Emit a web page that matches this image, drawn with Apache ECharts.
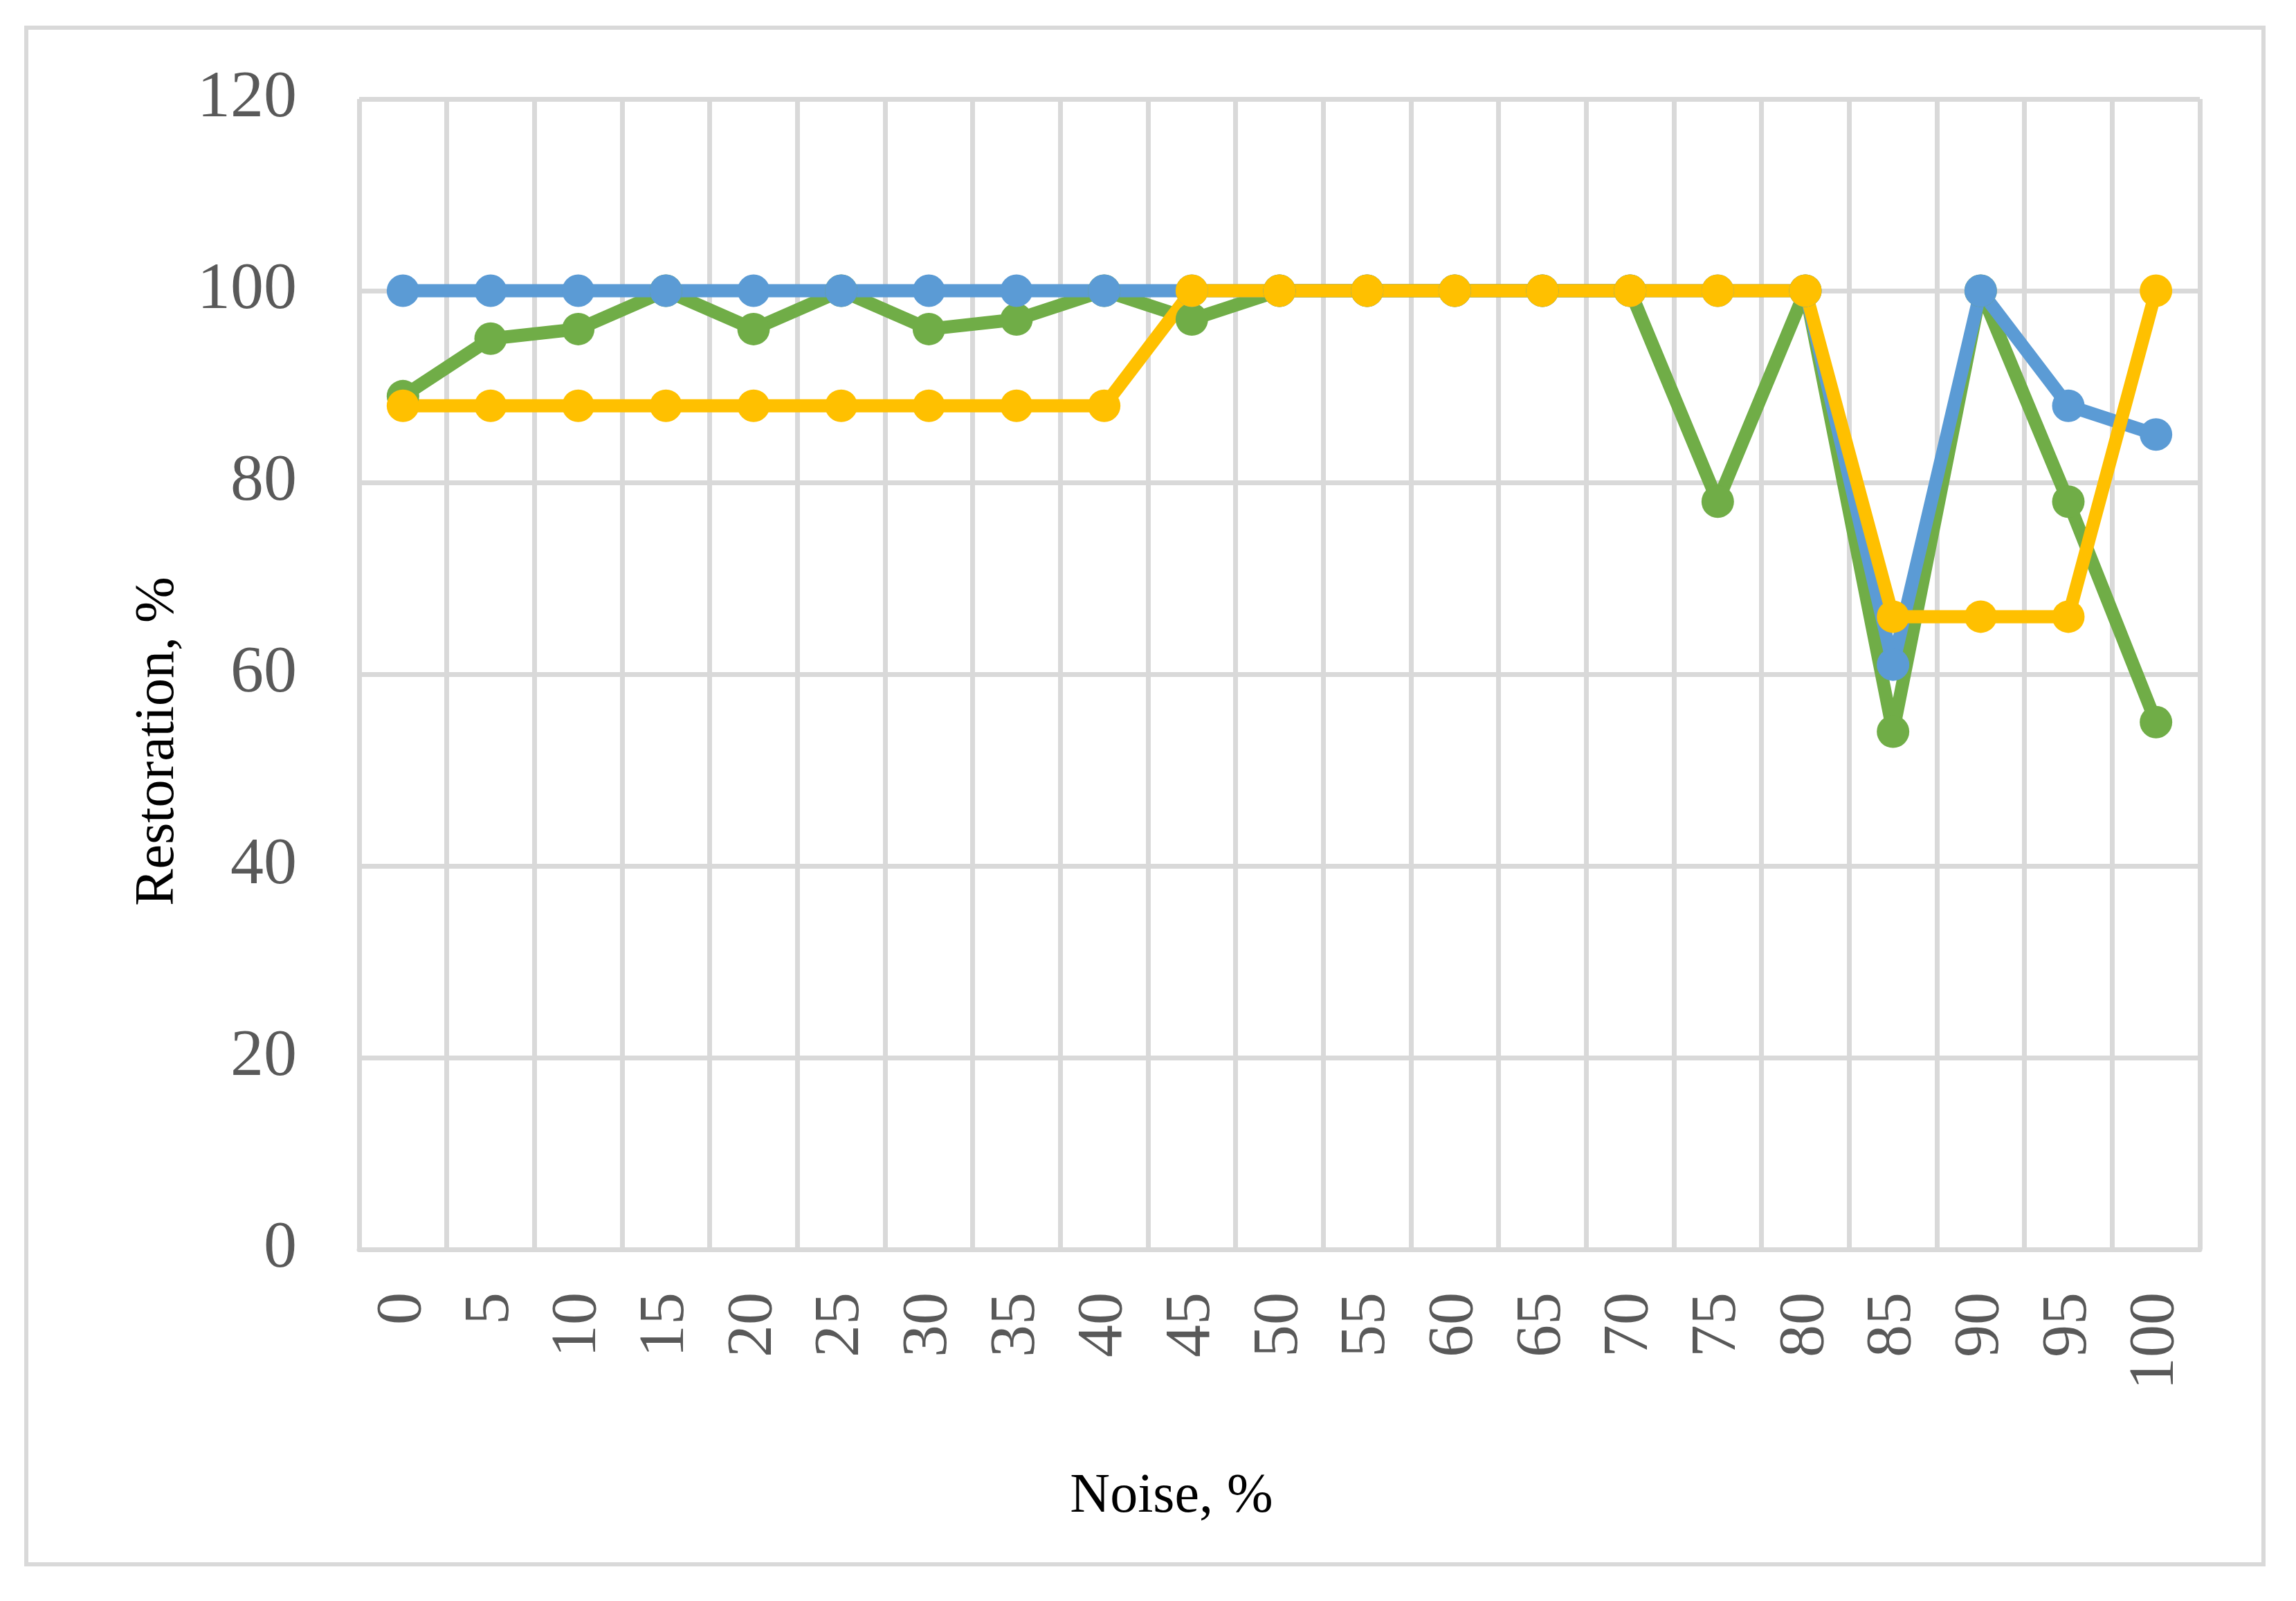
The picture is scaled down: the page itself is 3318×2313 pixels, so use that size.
<!DOCTYPE html>
<html>
<head>
<meta charset="utf-8">
<script src="https://cdn.jsdelivr.net/npm/echarts@6/dist/echarts.min.js"></script>
<style>
html,body{margin:0;padding:0;background:#fff;}
#chart{width:3318px;height:2313px;}
</style>
</head>
<body>
<div id="chart"></div>
<script>
const categories = ['0','5','10','15','20','25','30','35','40','45','50','55','60','65','70','75','80','85','90','95','100'];
const blueValues   = [100,100,100,100,100,100,100,100,100,100,100,100,100,100,100,100,100,61,100,88,85];
const greenValues  = [89,95,96,100,96,100,96,97,100,97,100,100,100,100,100,78,100,54,100,78,55];
const yellowValues = [88,88,88,88,88,88,88,88,88,100,100,100,100,100,100,100,100,66,66,66,100];
const yTicks = {min:0, max:120, interval:20};

const FONT = '"Liberation Serif", "Times New Roman", serif';
const GRID = '#d9d9d9';

const chart = echarts.init(document.getElementById('chart'), null, {renderer:'canvas'});

function lineSeries(name, data, color){
  return {
    name, type:'line', data,
    symbol:'circle', symbolSize:47,
    lineStyle:{color, width:19},
    itemStyle:{color},
    emphasis:{disabled:true},
    animation:false
  };
}

chart.setOption({
  backgroundColor:'#ffffff',
  animation:false,
  graphic:[{
    type:'rect', silent:true, z:-10,
    shape:{x:38, y:40, width:3233, height:2220},
    style:{fill:'none', stroke:GRID, lineWidth:6}
  }],
  grid:{left:519, right:139, top:143, bottom:508, containLabel:false},
  xAxis:{
    type:'category', data:categories, boundaryGap:true,
    name:'Noise, %', nameLocation:'middle', nameGap:318,
    nameTextStyle:{fontFamily:FONT, fontSize:80, color:'#000000', padding:[0,312,0,0]},
    axisLine:{show:true, lineStyle:{color:GRID, width:7}},
    axisTick:{show:false},
    axisLabel:{interval:0, rotate:90, margin:62, fontFamily:FONT, fontSize:94, color:'#595959'},
    splitLine:{show:true, interval:0, lineStyle:{color:GRID, width:7}}
  },
  yAxis:{
    type:'value', min:yTicks.min, max:yTicks.max, interval:yTicks.interval,
    name:'Restoration, %', nameLocation:'middle', nameGap:250, nameRotate:90,
    nameTextStyle:{fontFamily:FONT, fontSize:80, color:'#000000', padding:[0,194,0,0]},
    axisLine:{show:false}, axisTick:{show:false},
    axisLabel:{margin:90, fontFamily:FONT, fontSize:96, color:'#595959'},
    splitLine:{show:true, lineStyle:{color:GRID, width:7}}
  },
  series:[
    lineSeries('Green', greenValues, '#70AD47'),
    lineSeries('Blue', blueValues, '#5B9BD5'),
    lineSeries('Yellow', yellowValues, '#FFC000')
  ]
});
</script>
</body>
</html>
